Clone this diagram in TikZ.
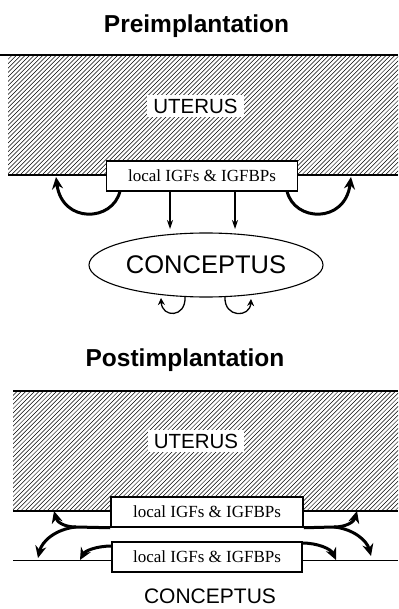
\documentclass[tikz,border=0pt]{standalone}
\usepackage{fontspec}
\setmainfont{Liberation Serif}
\setsansfont{Liberation Sans}
\usetikzlibrary{arrows.meta,shapes.geometric}
\tikzset{
  hatchline/.style={line width=0.5pt},
  edgeline/.style={line width=1.6pt},
  surfline/.style={line width=1pt},
  titletext/.style={font=\sffamily\bfseries\fontsize{24.5}{28}\selectfont, anchor=base, inner sep=0pt},
  organtext/.style={font=\sffamily\fontsize{20.5}{24}\selectfont, fill=white, inner xsep=6pt, inner ysep=4pt},
  factorbox/.style={draw, fill=white, line width=1.5pt, font=\fontsize{17}{20}\selectfont, minimum height=30pt, inner sep=0pt},
  thickarrow/.style={line width=3pt, -{Stealth[length=12pt,width=11pt]}},
  thinarrow/.style={line width=1.1pt, -{Stealth[length=9pt,width=6pt]}},
  looparrow/.style={line width=1.3pt, -{Stealth[length=7pt,width=7pt]}},
  branchline/.style={line width=3pt},
}
\begin{document}
\begin{tikzpicture}[x=1pt,y=-1pt]
\useasboundingbox (0,0) rectangle (398,609);
% ---------- Preimplantation ----------
\node[titletext] (t1) at (196.5,32.5) {Preimplantation};
\begin{scope}
  \clip (8,55) rectangle (398,175);
  \foreach \i in {0,...,120} \draw[hatchline] ({8+\i*4.4-120},175) -- ++(120,-120);
\end{scope}
\draw[edgeline] (0,55) -- (398,55);
\draw[edgeline] (8,175) -- (398,175);
\node[organtext] (u1) at (195.5,106) {UTERUS};
\node[factorbox, minimum width=191pt] (b1) at (202,176) {local IGFs \& IGFBPs};
\node[draw, ellipse, line width=1.1pt, minimum width=234pt, minimum height=64pt, inner sep=0pt,
      font=\sffamily\fontsize{25.5}{30}\selectfont] (c1) at (206,265) {CONCEPTUS};
\coordinate (la) at (120,191);
\coordinate (lt) at (56,177);
\coordinate (ra) at (287,191);
\coordinate (rt) at (351,177);
\draw[thickarrow] (la) .. controls (113,222) and (62,224) .. (lt);
\draw[thickarrow] (ra) .. controls (294,222) and (345,224) .. (rt);
\coordinate (d1s) at (170,191);
\coordinate (d1e) at (170,229);
\coordinate (d2s) at (235,191);
\coordinate (d2e) at (235,229);
\draw[thinarrow] (d1s) -- (d1e);
\draw[thinarrow] (d2s) -- (d2e);
\coordinate (l1s) at (185,297);
\coordinate (l1e) at (161,298);
\coordinate (l2s) at (225,297);
\coordinate (l2e) at (251,299);
\draw[looparrow] (l1s) .. controls (186,318) and (162,318) .. (l1e);
\draw[looparrow] (l2s) .. controls (224,318) and (250,318) .. (l2e);
% ---------- Postimplantation ----------
\node[titletext] (t2) at (185,366) {Postimplantation};
\begin{scope}
  \clip (13,391) rectangle (398,511);
  \foreach \i in {0,...,120} \draw[hatchline] ({13+\i*4.4-120},511) -- ++(120,-120);
\end{scope}
\draw[edgeline] (13,391) -- (398,391);
\draw[edgeline] (13,511) -- (398,511);
\draw[surfline] (13,560) -- (398,560);
\node[organtext] (u2) at (196,441) {UTERUS};
\node[factorbox, minimum width=192pt] (b2) at (207,512) {local IGFs \& IGFBPs};
\node[factorbox, minimum width=190pt] (b3) at (207,557) {local IGFs \& IGFBPs};
\coordinate (bl) at (76,527);
\coordinate (br) at (334,527);
\coordinate (tul) at (54,511);
\coordinate (tdl) at (38,558);
\coordinate (tur) at (357,511);
\coordinate (tdr) at (371,556);
\draw[branchline] (b2.south west) -- (bl);
\draw[branchline] (b2.south east) -- (br);
\draw[thickarrow] (bl) .. controls (64,527) and (57,522) .. (tul);
\draw[thickarrow] (bl) .. controls (56,529) and (42,541) .. (tdl);
\draw[thickarrow] (br) .. controls (346,527) and (354,522) .. (tur);
\draw[thickarrow] (br) .. controls (354,529) and (367,541) .. (tdr);
\coordinate (ll) at (112,546);
\coordinate (lle) at (80,560);
\coordinate (lr) at (302,543);
\coordinate (lre) at (336,560);
\draw[thickarrow] (ll) .. controls (96,546) and (85,551) .. (lle);
\draw[thickarrow] (lr) .. controls (318,543) and (331,549) .. (lre);
\node[font=\sffamily\fontsize{21}{25}\selectfont, anchor=base, inner sep=0pt] (c2) at (210,603) {CONCEPTUS};
\end{tikzpicture}
\end{document}
